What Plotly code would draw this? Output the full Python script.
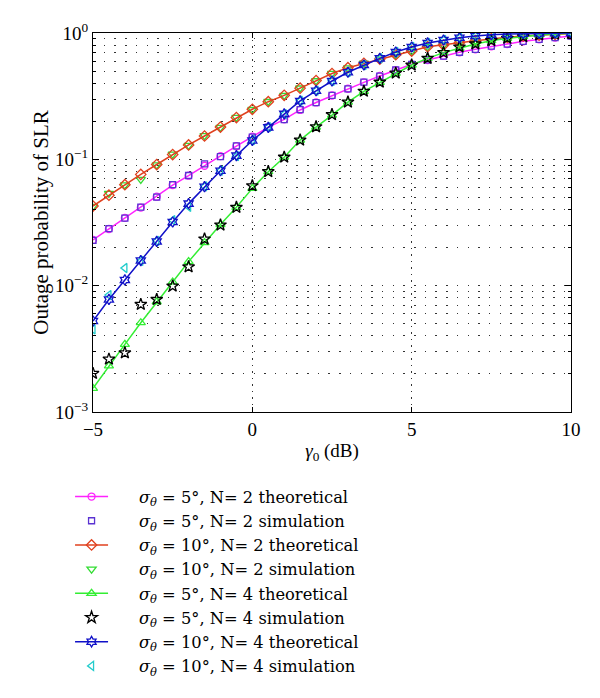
import plotly.graph_objects as go

# gamma_0 in dB, step 0.5
x_db = [-5 + 0.5 * i for i in range(31)]

# sigma = 5 deg, N = 2 (theoretical)
p_s5_n2 = [0.0230, 0.0281, 0.0344, 0.0415, 0.0506, 0.0626, 0.0742, 0.0890, 0.106, 0.127,
           0.151, 0.179, 0.207, 0.246, 0.282, 0.320, 0.362, 0.407, 0.457, 0.509,
           0.565, 0.611, 0.658, 0.703, 0.743, 0.785, 0.818, 0.859, 0.891, 0.918, 0.947]
# sigma = 5 deg, N = 2 (simulation)
p_s5_n2_sim = [0.0228, 0.0283, 0.0342, 0.0418, 0.0502, 0.0630, 0.0745, 0.0920, 0.105, 0.128,
               0.150, 0.180, 0.206, 0.247, 0.281, 0.321, 0.361, 0.409, 0.456, 0.510,
               0.563, 0.612, 0.657, 0.704, 0.742, 0.786, 0.817, 0.860, 0.890, 0.919, 0.946]

# sigma = 10 deg, N = 2 (theoretical)
p_s10_n2 = [0.0427, 0.0520, 0.0630, 0.0760, 0.0910, 0.109, 0.130, 0.153, 0.180, 0.214,
            0.249, 0.286, 0.321, 0.366, 0.420, 0.478, 0.531, 0.575, 0.622, 0.673,
            0.720, 0.779, 0.803, 0.838, 0.869, 0.902, 0.924, 0.947, 0.964, 0.975, 0.990]
# sigma = 10 deg, N = 2 (simulation)
p_s10_n2_sim = [0.0425, 0.0537, 0.0628, 0.0694, 0.0905, 0.110, 0.129, 0.154, 0.179, 0.215,
                0.248, 0.287, 0.320, 0.367, 0.419, 0.479, 0.530, 0.576, 0.621, 0.674,
                0.719, 0.780, 0.802, 0.839, 0.868, 0.903, 0.923, 0.948, 0.963, 0.976, 0.989]

# sigma = 5 deg, N = 4 (theoretical)
p_s5_n4 = [0.00154, 0.00232, 0.00343, 0.00509, 0.00746, 0.0107, 0.0155, 0.0219, 0.0305, 0.0417,
           0.0589, 0.0798, 0.104, 0.142, 0.180, 0.224, 0.284, 0.345, 0.407, 0.480,
           0.558, 0.630, 0.699, 0.757, 0.818, 0.869, 0.908, 0.935, 0.964, 0.980, 0.995]
# sigma = 5 deg, N = 4 (simulation)
p_s5_n4_sim = [0.00202, 0.00262, 0.00294, 0.00711, 0.00778, 0.00993, 0.0141, 0.0234, 0.0302, 0.0417,
               0.0618, 0.0800, 0.104, 0.142, 0.181, 0.226, 0.284, 0.346, 0.408, 0.481,
               0.557, 0.631, 0.700, 0.775, 0.819, 0.870, 0.909, 0.936, 0.965, 0.981, 0.995]

# sigma = 10 deg, N = 4 (theoretical)
p_s10_n4 = [0.00525, 0.00778, 0.0111, 0.0158, 0.0224, 0.0319, 0.0446, 0.0607, 0.0812, 0.107,
            0.141, 0.179, 0.229, 0.290, 0.349, 0.417, 0.489, 0.558, 0.630, 0.707,
            0.775, 0.834, 0.880, 0.918, 0.947, 0.970, 0.980, 0.988, 0.993, 0.996, 0.998]
# sigma = 10 deg, N = 4 (simulation)
p_s10_n4_sim = [0.00451, 0.00843, 0.0138, 0.0157, 0.0226, 0.0330, 0.0421, 0.0610, 0.0815, 0.106,
                0.142, 0.180, 0.228, 0.291, 0.350, 0.418, 0.490, 0.557, 0.631, 0.708,
                0.776, 0.835, 0.881, 0.919, 0.948, 0.971, 0.981, 0.989, 0.994, 0.997, 0.998]

names = [
    "<i>σ</i><sub><i>θ</i></sub> = 5°, N= 2 theoretical",
    "<i>σ</i><sub><i>θ</i></sub> = 5°, N= 2 simulation",
    "<i>σ</i><sub><i>θ</i></sub> = 10°, N= 2 theoretical",
    "<i>σ</i><sub><i>θ</i></sub> = 10°, N= 2 simulation",
    "<i>σ</i><sub><i>θ</i></sub> = 5°, N= 4 theoretical",
    "<i>σ</i><sub><i>θ</i></sub> = 5°, N= 4 simulation",
    "<i>σ</i><sub><i>θ</i></sub> = 10°, N= 4 theoretical",
    "<i>σ</i><sub><i>θ</i></sub> = 10°, N= 4 simulation",
]

x_ticks = [-5, 0, 5, 10]
x_ticktext = ["−5", "0", "5", "10"]
y_ticks = [0.001, 0.01, 0.1, 1]
y_ticktext = ["10<sup>−3</sup>", "10<sup>−2</sup>", "10<sup>−1</sup>", "10<sup>0</sup>"]
y_minor = [m * 10 ** e for e in (-3, -2, -1) for m in range(2, 10)]

series = [
    (p_s5_n2,      "lines+markers", "#ff22ff", "circle-open",        7),
    (p_s5_n2_sim,  "markers",       "#5a32d2", "square-open",        6),
    (p_s10_n2,     "lines+markers", "#e0401e", "diamond-open",       8),
    (p_s10_n2_sim, "markers",       "#33dd33", "triangle-down-open", 8),
    (p_s5_n4,      "lines+markers", "#33ee33", "triangle-up-open",   8),
    (p_s5_n4_sim,  "markers",       "#000000", "star-open",          9),
    (p_s10_n4,     "lines+markers", "#1010c8", "hexagram-open",      8),
    (p_s10_n4_sim, "markers",       "#22cccc", "triangle-left-open", 8),
]
# drawing order (simulated points for the 10 deg cases sit under their curves)
draw_order = [0, 1, 3, 2, 4, 5, 7, 6]

FONT = "Liberation Serif"
LEG_FONT = "DejaVu Serif"
pad = "\u00a0" * 5

fig = go.Figure()
for i in draw_order:
    y, mode, color, sym, size = series[i]
    fig.add_trace(go.Scatter(
        x=x_db, y=y, name=pad + names[i], mode=mode, legendrank=i + 1,
        line=dict(color=color, width=1.5),
        marker=dict(symbol=sym, size=size, color=color, line=dict(color=color, width=1.3)),
    ))

# the page body adds an 8px offset, margins below account for it
fig.update_layout(
    width=600, height=698,
    margin=dict(l=85, r=37, t=25, b=294, autoexpand=False),
    plot_bgcolor="white", paper_bgcolor="white",
    font=dict(family=FONT, size=19, color="black"),
    showlegend=True,
    legend=dict(
        x=-0.048, y=-0.178, xanchor="left", yanchor="top",
        font=dict(family=LEG_FONT, size=16.3, color="black"),
        itemwidth=33, tracegroupgap=0, bgcolor="rgba(255,255,255,0)",
    ),
    xaxis=dict(
        range=[-5, 10], tickmode="array", tickvals=x_ticks, ticktext=x_ticktext,
        ticks="inside", ticklen=5, tickcolor="black", automargin=False,
        showline=True, linecolor="black", linewidth=1, mirror="ticks",
        showgrid=True, gridcolor="#333333", gridwidth=1, griddash="1.5px,5px",
        zeroline=False,
        title=dict(text="<i>γ</i><sub>0</sub> (dB)", standoff=4,
                   font=dict(family=FONT, size=19)),
        tickfont=dict(family=FONT, size=19),
    ),
    yaxis=dict(
        type="log", range=[-3, 0], tickmode="array", tickvals=y_ticks, ticktext=y_ticktext,
        ticks="inside", ticklen=6, tickcolor="black", automargin=False,
        showline=True, linecolor="black", linewidth=1, mirror="ticks",
        showgrid=True, gridcolor="#333333", gridwidth=1, griddash="1.5px,9.2px",
        minor=dict(tickmode="array", tickvals=y_minor, ticks="inside", ticklen=3,
                   tickcolor="black", showgrid=True, gridcolor="#333333",
                   gridwidth=1, griddash="1.5px,9.2px"),
        zeroline=False,
        title=dict(text="Outage probability of SLR", standoff=0,
                   font=dict(family=FONT, size=21)),
        tickfont=dict(family=FONT, size=19),
    ),
)

fig.write_html("out.html")
